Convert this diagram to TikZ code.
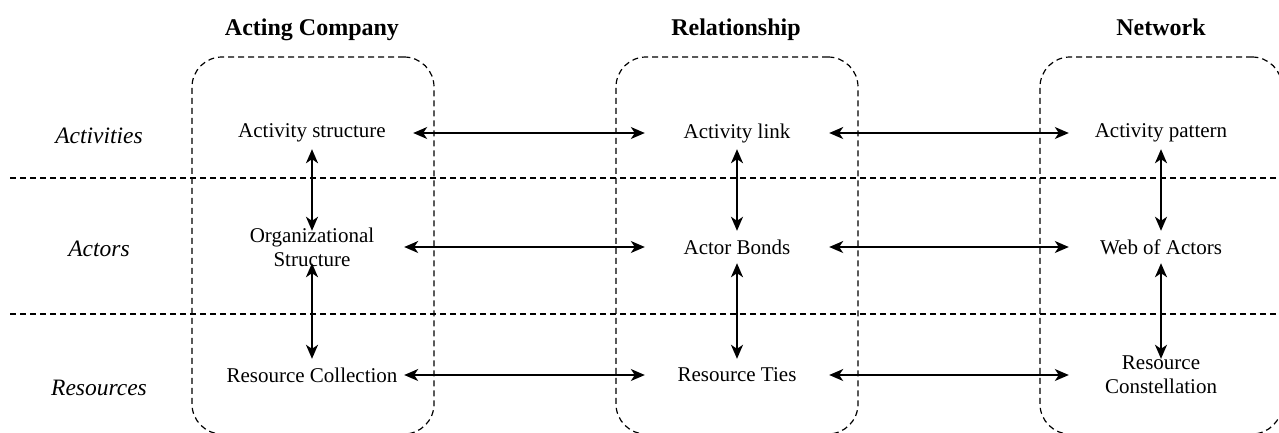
\documentclass[tikz,border=0pt]{standalone}
\usepackage{fontspec}
\setmainfont{Liberation Serif}
\usetikzlibrary{arrows.meta}
\begin{document}
\begin{tikzpicture}[x=1pt,y=-1pt,
  item/.style={inner sep=0pt, minimum width=184pt, minimum height=32pt,
    font=\fontsize{21}{24}\selectfont, align=center},
  twoline/.style={item, label={[font=\fontsize{21}{24}\selectfont, align=center, inner sep=0pt]center:#1}},
  head/.style={inner sep=0pt, anchor=base, font=\fontsize{24}{28}\selectfont\bfseries},
  rowlab/.style={inner sep=0pt, anchor=base, font=\fontsize{23.5}{28}\selectfont\itshape},
  group/.style={draw, dash pattern=on 6pt off 4pt, line width=1.2pt,
    rounded corners=30pt, minimum width=242pt, minimum height=377pt, inner sep=0pt},
  sep/.style={dash pattern=on 6pt off 4pt, line width=1.2pt},
  hlink/.style={{Stealth[length=14pt, width=12pt, inset=4pt]}-{Stealth[length=14pt, width=12pt, inset=4pt]}, line width=1.3pt},
  vlink/.style={hlink, line width=1.8pt}
]
\useasboundingbox (0,0) rectangle (1279,432);

% the three levels of analysis
\node[group] (gA) at (313,245.5) {};
\node[group] (gR) at (737,245.5) {};
\node[group] (gN) at (1161,245.5) {};

% row separators
\coordinate (s1l) at (10,178);  \coordinate (s1r) at (1279,178);
\coordinate (s2l) at (10,314);  \coordinate (s2r) at (1279,314);
\draw[sep] (s1l) -- (s1r);
\draw[sep] (s2l) -- (s2r);

% column headings
\node[head] (hA) at (312,35) {Acting Company};
\node[head] (hR) at (736,35) {Relationship};
\node[head] (hN) at (1161,35) {Network};

% row headings
\node[rowlab] (lA) at (99,143) {Activities};
\node[rowlab] (lB) at (99,256) {Actors};
\node[rowlab] (lC) at (99,395) {Resources};

% acting company
\node[item, minimum width=202pt] (a1) at (312,133) {Activity structure};
\node[twoline={Organizational\\Structure}] (a2) at (312,247) {};
\node[item] (a3) at (312,375) {Resource Collection};

% relationship
\node[item] (r1) at (737,133) {Activity link};
\node[item] (r2) at (737,247) {Actor Bonds};
\node[item] (r3) at (737,375) {Resource Ties};

% network
\node[item] (n1) at (1161,133) {Activity pattern};
\node[item] (n2) at (1161,247) {Web of Actors};
\node[twoline={Resource\\Constellation}] (n3) at (1161,375) {};

% links between levels
\draw[hlink] (a1) -- (r1);
\draw[hlink] (r1) -- (n1);
\draw[hlink] (a2) -- (r2);
\draw[hlink] (r2) -- (n2);
\draw[hlink] (a3) -- (r3);
\draw[hlink] (r3) -- (n3);

% links between layers
\draw[vlink] (a1) -- (a2);
\draw[vlink] (a2) -- (a3);
\draw[vlink] (r1) -- (r2);
\draw[vlink] (r2) -- (r3);
\draw[vlink] (n1) -- (n2);
\draw[vlink] (n2) -- (n3);
\end{tikzpicture}
\end{document}
